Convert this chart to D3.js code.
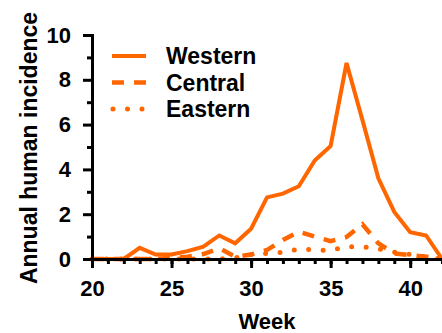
<!DOCTYPE html>
<html>
<head>
<meta charset="utf-8">
<script src="https://cdn.jsdelivr.net/npm/d3@7"></script>
<style>
  body { margin: 0; background: #fff; }
  svg { display: block; font-family: 'Liberation Sans', Arial, sans-serif; font-weight: bold; }
</style>
</head>
<body>
<div id="chart"></div>
<script>
const weeks = [20, 21, 22, 23, 24, 25, 26, 27, 28, 29, 30, 31, 32, 33, 34, 35, 36, 37, 38, 39, 40, 41, 42]
const western = [0, 0, 0, 0.5, 0.2, 0.2, 0.35, 0.55, 1.05, 0.7, 1.35, 2.75, 2.92, 3.25, 4.4, 5.05, 8.75, 6.2, 3.6, 2.1, 1.2, 1.05, 0]
const central = [0, 0, 0, 0, 0, 0.05, 0.1, 0.22, 0.48, 0.1, 0.2, 0.4, 0.85, 1.22, 1.0, 0.8, 0.98, 1.55, 0.7, 0.25, 0.17, 0.1, 0]
const eastern = [0, 0, 0, 0, 0, 0, 0, 0, 0, 0.05, 0.2, 0.25, 0.3, 0.45, 0.4, 0.38, 0.55, 0.55, 0.45, 0.3, 0.2, 0.1, 0]
const seriesNames = ['Western', 'Central', 'Eastern']
const yMajorTicks = [0, 2, 4, 6, 8, 10]
const yMinorTicks = [1, 3, 5, 7, 9]
const xMajorTicks = [20, 25, 30, 35, 40]

const width = 442
const height = 333
const margin = { top: 35, right: 0, bottom: 74, left: 92 }
const orange = '#ff6600'

const dashes = {
  Western: null,
  Central: '12 10',
  Eastern: '0 14.5'
}
const caps = { Western: 'butt', Central: 'butt', Eastern: 'round' }
const widths = { Western: 4, Central: 4.5, Eastern: 5 }
const values = { Western: western, Central: central, Eastern: eastern }

const svg = d3.select('#chart').append('svg')
  .attr('width', width)
  .attr('height', height)

const x = d3.scaleLinear().domain([20, 42]).range([margin.left, width - margin.right])
const y = d3.scaleLinear().domain([0, 10]).range([height - margin.bottom, margin.top])

// lines
const line = d3.line()
  .x((d) => x(d[0]))
  .y((d) => y(d[1]))

seriesNames.slice().reverse().forEach((name) => {
  svg.append('path')
    .datum(weeks.map((w, i) => [w, values[name][i]]))
    .attr('d', line)
    .attr('fill', 'none')
    .attr('stroke', orange)
    .attr('stroke-width', widths[name])
    .attr('stroke-linejoin', 'miter')
    .attr('stroke-linecap', caps[name])
    .attr('stroke-dasharray', dashes[name])
})

// axes
const styleAxis = (g) => {
  g.selectAll('.domain').attr('stroke', '#000').attr('stroke-width', 3)
  g.selectAll('.tick line').attr('stroke', '#000').attr('stroke-width', 3)
  g.selectAll('.tick text').attr('fill', '#000').style('font-size', '22px').style('font-weight', 'bold')
}

svg.append('g')
  .attr('transform', `translate(0,${y(0)})`)
  .call(d3.axisBottom(x).tickValues(weeks).tickSize(5).tickFormat(''))
  .call(styleAxis)

svg.append('g')
  .attr('transform', `translate(0,${y(0)})`)
  .call(d3.axisBottom(x).tickValues(xMajorTicks).tickSize(9).tickPadding(12).tickFormat(d3.format('d')))
  .call(styleAxis)
  .call((g) => g.select('.domain').remove())

svg.append('g')
  .attr('transform', `translate(${x(20)},0)`)
  .call(d3.axisLeft(y).tickValues(yMinorTicks).tickSize(5).tickFormat(''))
  .call(styleAxis)

svg.append('g')
  .attr('transform', `translate(${x(20)},0)`)
  .call(d3.axisLeft(y).tickValues(yMajorTicks).tickSize(9).tickPadding(12).tickFormat(d3.format('d')))
  .call(styleAxis)
  .call((g) => g.select('.domain').remove())

// axis titles
svg.append('text')
  .attr('x', (x(20) + x(42)) / 2)
  .attr('y', 329)
  .attr('text-anchor', 'middle')
  .style('font-size', '22px')
  .text('Week')

svg.append('text')
  .attr('transform', `translate(37,${148}) rotate(-90)`)
  .attr('text-anchor', 'middle')
  .style('font-size', '23px')
  .text('Annual human incidence')

// legend
const legend = svg.append('g').attr('transform', 'translate(112,56)')
seriesNames.forEach((name, i) => {
  const row = legend.append('g').attr('transform', `translate(0,${i * 26.5})`)
  row.append('line')
    .attr('x1', name === 'Eastern' ? 1 : 0)
    .attr('x2', 34)
    .attr('stroke', orange)
    .attr('stroke-width', widths[name])
    .attr('stroke-linecap', caps[name])
    .attr('stroke-dasharray', dashes[name])
  row.append('text')
    .attr('x', 54)
    .attr('dy', '0.36em')
    .style('font-size', '23px')
    .text(name)
})
</script>
</body>
</html>
